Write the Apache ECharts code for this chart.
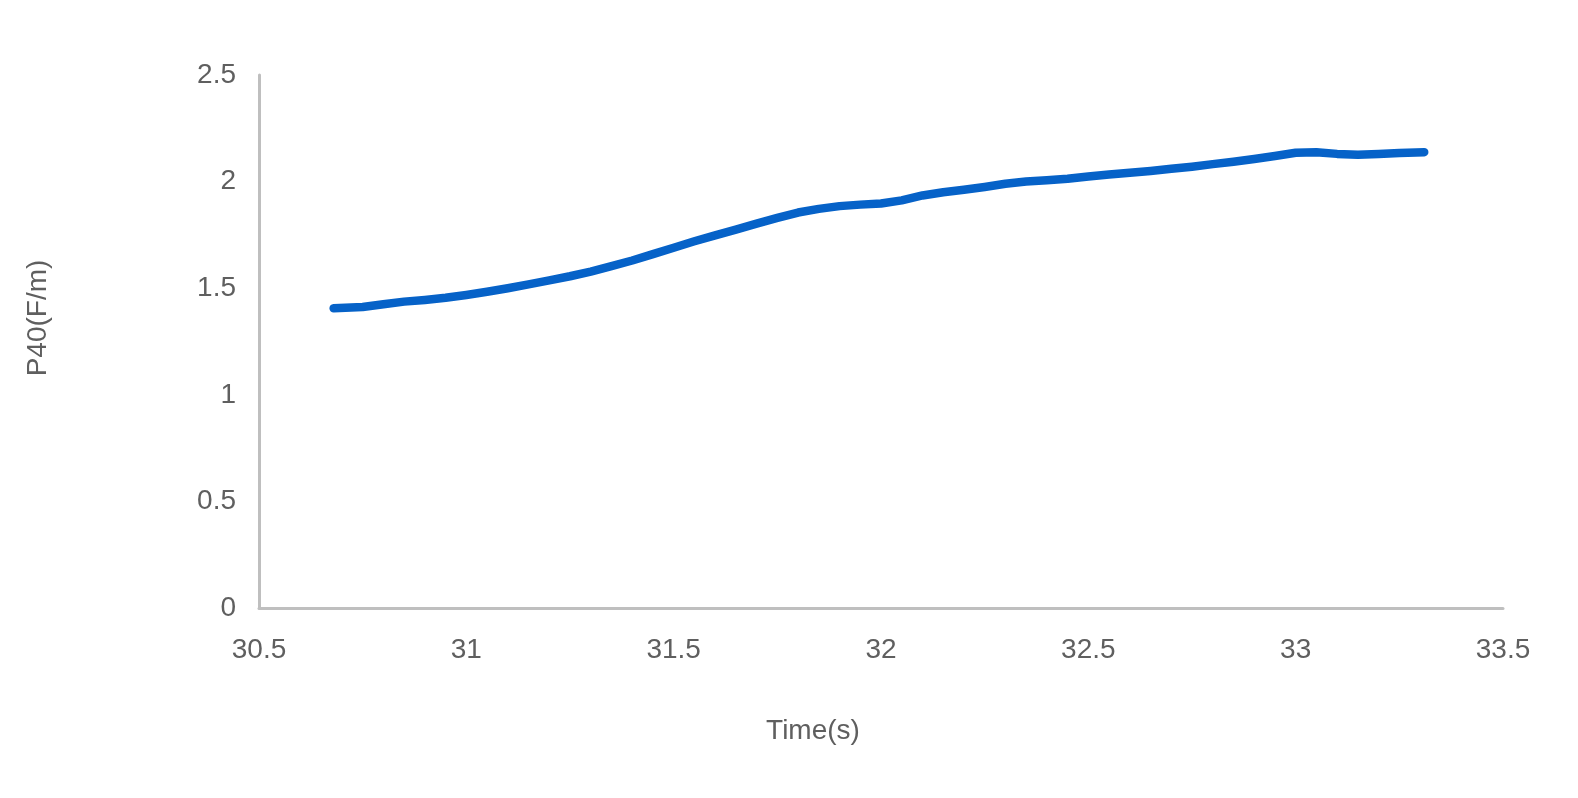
<!DOCTYPE html>
<html>
<head>
<meta charset="utf-8">
<script src="https://cdn.jsdelivr.net/npm/echarts@6/dist/echarts.min.js"></script>
<style>
html,body{margin:0;padding:0;background:#fff;}
#chart{width:1578px;height:798px;}
</style>
</head>
<body>
<div id="chart"></div>
<script>
// Time (s)
var timeValues = [30.68,30.75,30.80,30.85,30.90,30.95,31.00,31.05,31.10,31.15,31.20,31.25,31.30,31.35,31.40,31.45,31.50,31.55,31.60,31.65,31.70,31.75,31.80,31.85,31.90,31.95,32.00,32.05,32.10,32.15,32.20,32.25,32.30,32.35,32.40,32.45,32.50,32.55,32.60,32.65,32.70,32.75,32.80,32.85,32.90,32.95,33.00,33.05,33.10,33.15,33.20,33.25,33.31];
// P40 (F/m)
var p40Values = [1.406,1.412,1.425,1.437,1.445,1.455,1.468,1.483,1.500,1.518,1.537,1.556,1.578,1.603,1.630,1.660,1.690,1.720,1.748,1.775,1.803,1.830,1.855,1.872,1.885,1.892,1.897,1.912,1.935,1.950,1.962,1.975,1.990,2.000,2.006,2.013,2.024,2.033,2.042,2.050,2.060,2.070,2.082,2.093,2.106,2.120,2.135,2.138,2.130,2.126,2.130,2.134,2.138];
var xAxisTitle = 'Time(s)';
var yAxisTitle = 'P40(F/m)';

var seriesData = timeValues.map(function(t, i){ return [t, p40Values[i]]; });
var labelColor = '#5f5f5f';
var fontFam = 'Liberation Sans, Arial, sans-serif';

var chart = echarts.init(document.getElementById('chart'), null, {renderer:'canvas'});
chart.setOption({
  backgroundColor: '#ffffff',
  animation: false,
  grid: {left: 259, right: 75, top: 75, bottom: 190},
  xAxis: {
    type: 'value', min: 30.5, max: 33.5, interval: 0.5,
    axisLine: {show: true, lineStyle: {color: '#bfbfbf', width: 3}},
    axisTick: {show: false},
    splitLine: {show: false},
    axisLabel: {color: labelColor, fontSize: 28, fontFamily: fontFam, margin: 28,
      formatter: function(v){ return String(+v.toFixed(1)); }}
  },
  yAxis: {
    type: 'value', min: 0, max: 2.5, interval: 0.5,
    axisLine: {show: true, lineStyle: {color: '#bfbfbf', width: 3}},
    axisTick: {show: false},
    splitLine: {show: false},
    axisLabel: {color: labelColor, fontSize: 28, fontFamily: fontFam, margin: 23,
      formatter: function(v){ return String(+v.toFixed(1)); }}
  },
  graphic: [
    {type: 'text', x: 813, y: 731, style: {text: xAxisTitle, fill: labelColor, font: '28px ' + fontFam, textAlign: 'center', textVerticalAlign: 'middle'}},
    {type: 'text', x: 38, y: 318, rotation: Math.PI/2, style: {text: yAxisTitle, fill: labelColor, font: '28px ' + fontFam, textAlign: 'center', textVerticalAlign: 'middle'}}
  ],
  series: [{
    type: 'line',
    data: seriesData,
    showSymbol: false,
    smooth: false,
    lineStyle: {color: '#0662c8', width: 8.5, cap: 'round', join: 'round'},
    itemStyle: {color: '#0662c8'}
  }]
});
</script>
</body>
</html>
